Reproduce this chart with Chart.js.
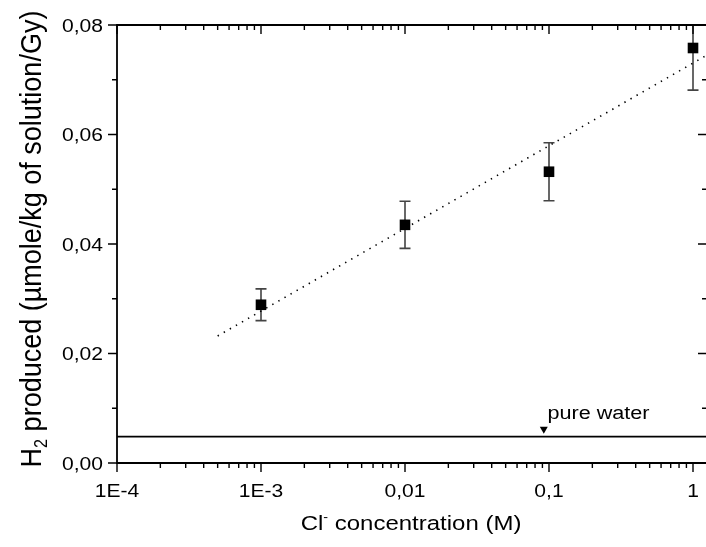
<!DOCTYPE html>
<html>
<head>
<meta charset="utf-8">
<script src="https://cdn.jsdelivr.net/npm/chart.js@4/dist/chart.umd.min.js"></script>
<style>
  html, body { margin: 0; padding: 0; background: #fff; overflow: hidden; }
  #wrap { width: 706px; height: 547px; }
</style>
</head>
<body>
<div id="wrap"><canvas id="chart" width="706" height="547"></canvas></div>
<script>
// ==================== 数据 ====================

const concentrations = [0.001, 0.01, 0.1, 1];
const h2Produced = [0.0289, 0.0435, 0.0532, 0.0758];
const h2Error = [0.0029, 0.0043, 0.0053, 0.0077];

// 拟合直线（点线）端点
const fitX = [0.0005, 1.23];
const fitY = [0.0232, 0.0744];

// 纯水基线与箭头
const pureWaterLevel = 0.0048;
const arrowX = [0.092];
const arrowY = [0.0062];
const pureWaterLabel = "pure water";
const pureWaterLabelAt = { x: 0.0975, y: 0.0080 };

// 坐标轴
const xMin = 0.0001, xMax = 1.231;
const yMin = 0, yMax = 0.08;
const xTickValues = [0.0001, 0.001, 0.01, 0.1, 1];
const xTickLabels = ["1E-4", "1E-3", "0,01", "0,1", "1"];
const yTickValues = [0, 0.02, 0.04, 0.06, 0.08];
const yTickLabels = ["0,00", "0,02", "0,04", "0,06", "0,08"];
const yMinorValues = [0.01, 0.03, 0.05, 0.07];

const FONT = "'Liberation Sans', Arial, Helvetica, sans-serif";
const SX = 1.17; // 参考图文字横向略宽

// ==================== 工具函数 ====================

function stretchedText(ctx, text, x, y, size, align, sx) {
  ctx.save();
  ctx.translate(x, y);
  ctx.scale(sx, 1);
  ctx.font = `${size}px ${FONT}`;
  ctx.textAlign = align;
  ctx.textBaseline = "alphabetic";
  ctx.fillStyle = "#000";
  ctx.fillText(text, 0, 0);
  ctx.restore();
}

function xMinorValues() {
  const out = [];
  for (let e = -4; e <= 0; e++) {
    for (let m = 2; m <= 9; m++) {
      const v = m * Math.pow(10, e);
      if (v < xMax) out.push(v);
    }
  }
  return out;
}

// ==================== 插件：误差棒、边框、刻度、文字 ====================

const decorPlugin = {
  id: "decor",
  beforeDatasetsDraw(chart) {
    const { ctx, chartArea: a, scales: { x, y } } = chart;
    ctx.save();
    ctx.beginPath();
    ctx.rect(a.left, a.top, a.right - a.left, a.bottom - a.top);
    ctx.clip();
    concentrations.forEach((c, i) => {
      const px = x.getPixelForValue(c);
      const top = y.getPixelForValue(h2Produced[i] + h2Error[i]);
      const bot = y.getPixelForValue(h2Produced[i] - h2Error[i]);
      ctx.strokeStyle = "#444";
      ctx.lineWidth = 1.6;
      ctx.beginPath();
      ctx.moveTo(px, top); ctx.lineTo(px, bot);
      ctx.moveTo(px - 5.5, top); ctx.lineTo(px + 5.5, top);
      ctx.moveTo(px - 5.5, bot); ctx.lineTo(px + 5.5, bot);
      ctx.stroke();
    });
    ctx.restore();
  },
  afterDraw(chart) {
    const { ctx, chartArea: a, scales: { x, y } } = chart;
    ctx.save();
    ctx.strokeStyle = "#000";
    ctx.lineWidth = 1.8;

    // 边框（右边框在画面之外）
    ctx.beginPath();
    ctx.moveTo(a.right, a.top); ctx.lineTo(a.left, a.top);
    ctx.lineTo(a.left, a.bottom); ctx.lineTo(a.right, a.bottom);
    ctx.stroke();

    ctx.lineWidth = 1.4;
    ctx.beginPath();
    // x 轴：底部向外，顶部向内
    for (const v of xTickValues) {
      const px = x.getPixelForValue(v);
      ctx.moveTo(px, a.bottom); ctx.lineTo(px, a.bottom + 9);
      ctx.moveTo(px, a.top); ctx.lineTo(px, a.top + 9);
    }
    for (const v of xMinorValues()) {
      const px = x.getPixelForValue(v);
      ctx.moveTo(px, a.bottom); ctx.lineTo(px, a.bottom + 5);
      ctx.moveTo(px, a.top); ctx.lineTo(px, a.top + 5);
    }
    // y 轴：左侧向外，右侧向内
    for (const v of yTickValues) {
      const py = y.getPixelForValue(v);
      ctx.moveTo(a.left, py); ctx.lineTo(a.left - 9, py);
      ctx.moveTo(a.right, py); ctx.lineTo(a.right - 8, py);
    }
    for (const v of yMinorValues) {
      const py = y.getPixelForValue(v);
      ctx.moveTo(a.left, py); ctx.lineTo(a.left - 5, py);
      ctx.moveTo(a.right, py); ctx.lineTo(a.right - 4, py);
    }
    ctx.stroke();

    // 刻度标签
    xTickValues.forEach((v, i) => {
      stretchedText(ctx, xTickLabels[i], x.getPixelForValue(v), 497, 18, "center", SX);
    });
    yTickValues.forEach((v, i) => {
      stretchedText(ctx, yTickLabels[i], 103, y.getPixelForValue(v) + 6.5, 18, "right", SX);
    });

    // 纯水标注
    stretchedText(ctx, pureWaterLabel, x.getPixelForValue(pureWaterLabelAt.x),
      y.getPixelForValue(pureWaterLabelAt.y), 18, "left", 1.2);

    // x 轴标题：Cl⁻ concentration (M)
    {
      const size = 20.5;
      ctx.font = `${size}px ${FONT}`;
      const w1 = ctx.measureText("Cl").width * SX;
      ctx.font = `${size * 0.6}px ${FONT}`;
      const w2 = ctx.measureText("-").width * SX;
      ctx.font = `${size}px ${FONT}`;
      const w3 = ctx.measureText(" concentration (M)").width * SX;
      const cx = 411;
      const base = 530;
      const sx0 = cx - (w1 + w2 + w3) / 2;
      stretchedText(ctx, "Cl", sx0, base, size, "left", SX);
      stretchedText(ctx, "-", sx0 + w1, base - 9, size * 0.6, "left", SX);
      stretchedText(ctx, " concentration (M)", sx0 + w1 + w2, base, size, "left", SX);
    }

    // y 轴标题：H₂ produced (µmole/kg of solution/Gy)
    {
      const size = 27;
      const cy = (a.top + a.bottom) / 2 - 5;
      const baseX = 41;
      ctx.save();
      ctx.translate(baseX, cy);
      ctx.rotate(-Math.PI / 2);
      ctx.scale(1, 1.12);
      ctx.fillStyle = "#000";
      ctx.textBaseline = "alphabetic";
      ctx.textAlign = "left";
      ctx.font = `${size}px ${FONT}`;
      const t1 = "H", t2 = "2", t3 = " produced (\u00b5mole/kg of solution/Gy)";
      const w1 = ctx.measureText(t1).width;
      const w3 = ctx.measureText(t3).width;
      ctx.font = `${size * 0.6}px ${FONT}`;
      const w2 = ctx.measureText(t2).width;
      const p = -(w1 + w2 + w3) / 2;
      ctx.font = `${size}px ${FONT}`;
      ctx.fillText(t1, p, 0);
      ctx.font = `${size * 0.6}px ${FONT}`;
      ctx.fillText(t2, p + w1, 5);
      ctx.font = `${size}px ${FONT}`;
      ctx.fillText(t3, p + w1 + w2, 0);
      ctx.restore();
    }
    ctx.restore();
  },
};

// ==================== 图表 ====================

new Chart(document.getElementById("chart"), {
  type: "scatter",
  data: {
    datasets: [
      {
        label: "H2 produced",
        data: concentrations.map((c, i) => ({ x: c, y: h2Produced[i] })),
        pointStyle: "rect",
        pointRadius: 7.5,
        backgroundColor: "#000",
        borderColor: "#000",
        borderWidth: 0,
      },
      {
        label: "fit",
        data: fitX.map((v, i) => ({ x: v, y: fitY[i] })),
        showLine: true,
        pointRadius: 0,
        borderColor: "#000",
        borderWidth: 1.6,
        borderDash: [1.4, 5.6],
      },
      {
        label: "pure water",
        data: [{ x: xMin, y: pureWaterLevel }, { x: xMax, y: pureWaterLevel }],
        showLine: true,
        pointRadius: 0,
        borderColor: "#000",
        borderWidth: 1.8,
      },
      {
        label: "arrow",
        data: arrowX.map((v, i) => ({ x: v, y: arrowY[i] })),
        pointStyle: "triangle",
        rotation: 180,
        pointRadius: 4.6,
        backgroundColor: "#000",
        borderColor: "#000",
        borderWidth: 0,
      },
    ],
  },
  options: {
    responsive: false,
    animation: false,
    layout: { autoPadding: false, padding: { top: 25, right: 0, left: 0, bottom: 0 } },
    plugins: { legend: { display: false }, tooltip: { enabled: false } },
    scales: {
      x: {
        type: "logarithmic",
        min: xMin,
        max: xMax,
        grid: { display: false },
        border: { display: false },
        ticks: { display: false },
        afterFit: (scale) => { scale.height = 84; },
      },
      y: {
        type: "linear",
        min: yMin,
        max: yMax,
        grid: { display: false },
        border: { display: false },
        ticks: { display: false },
        afterFit: (scale) => { scale.width = 117; },
      },
    },
  },
  plugins: [decorPlugin],
});
</script>
</body>
</html>
